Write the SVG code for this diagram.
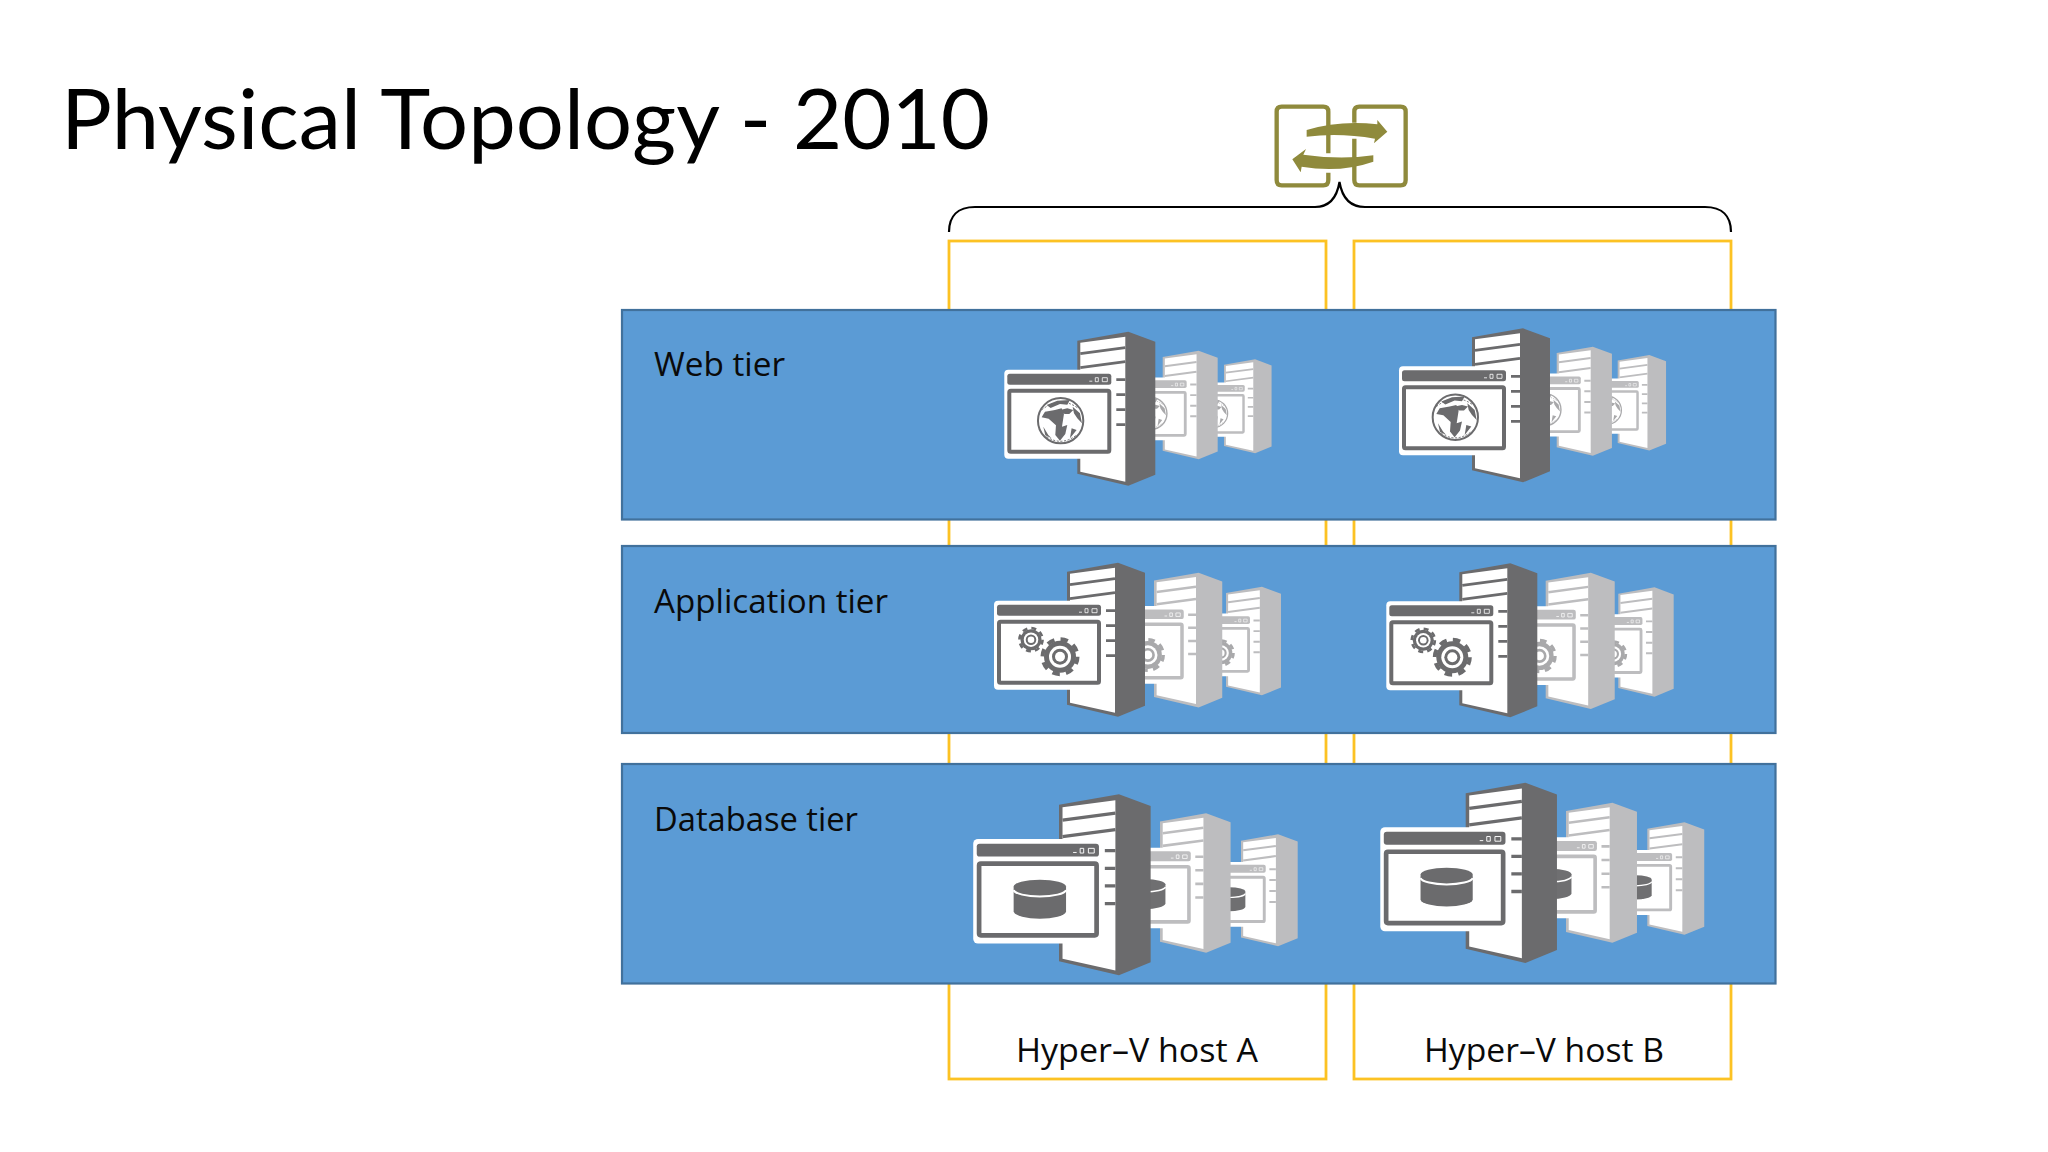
<svg xmlns="http://www.w3.org/2000/svg" xmlns:xlink="http://www.w3.org/1999/xlink" width="2048" height="1152" viewBox="0 0 2048 1152">
<style>
.bar{fill:#5b9bd5;stroke:#41719c;stroke-width:2.2}
.host{fill:#fff;stroke:#fcc223;stroke-width:2.8}
.lbl{font-family:"Open Sans","Liberation Sans",sans-serif;font-size:33px;fill:#0a0a0a}
.title{font-family:Lato,"Liberation Sans",sans-serif;font-size:84px;fill:#000}
.front{color:#6b6b6d}
.back{color:#bdbdbf}
.ic{color:#6f6f71}
.gi{color:#a9a9ab}
.ol{fill:none;stroke:#8f8a3c;stroke-width:13}
</style>
<defs>
<g id="srv">
<path fill="currentColor" d="M0 9L51 0L78 10V143L51 154L0 142Z"/>
<path fill="#fff" d="M3 11L48 5V150L3 140Z"/>
<path fill="none" stroke="currentColor" stroke-width="2.800" d="M3 22L48 16M3 36L48 30M39 48h9M39 63h9M39 78h9M39 93h9"/>
<rect x="-73" y="38" width="109" height="89" rx="4" fill="#fff"/>
<rect x="-70" y="42" width="104" height="11" rx="2.500" fill="currentColor"/>
<rect x="-68" y="59" width="100" height="61" rx="1.500" fill="#fff" stroke="currentColor" stroke-width="4"/>
<path fill="none" stroke="#fff" stroke-width=".8" d="M12 49.500h3M18 46v4h3v-4zM25 46h5v4h-5z"/>
</g>
<g id="globe" transform="translate(-97.330 -21.670) scale(.3333)">
<circle cx="242" cy="332" r="68" fill="#fff" stroke="currentColor" stroke-width="6"/>
<path fill="currentColor" d="M225 300L245 295L252 312L246 350L262 345L256 372L240 392L226 375L228 346L206 326L185 322L195 305ZM200 285L232 272L270 270L262 284L240 282L212 294ZM278 290L300 310L306 340L292 325L282 310ZM190 350L205 375L215 385L196 376ZM275 355L290 360L270 385ZM240 300L262 295L280 300L268 312L254 312Z"/>
<path fill="none" stroke="currentColor" stroke-width="3" stroke-dasharray="6 5" d="M185 300Q240 255 295 295M200 380Q245 410 290 375"/>
</g>
<g id="gear">
<circle r="16" fill="currentColor"/>
<circle r="17.500" fill="none" stroke="currentColor" stroke-width="4" stroke-dasharray="7.500 6.250"/>
<circle r="11" fill="#fff"/>
<circle r="8" fill="currentColor"/>
<circle r="5" fill="#fff"/>
</g>
<g id="gears">
<use xlink:href="#gear" href="#gear" transform="translate(-36 77) scale(.66)"/>
<use xlink:href="#gear" href="#gear" transform="translate(-7 94)"/>
</g>
<g id="db">
<path fill="currentColor" d="M-38.600 79V100A22.400 6.500 0 0 0 6 100V79Z"/>
<ellipse cx="-16.300" cy="78.500" rx="22.300" ry="5.800" fill="currentColor"/>
<path fill="none" stroke="#fff" stroke-width="1.700" d="M-38.600 81.500A22.400 6 0 0 0 6 81.500"/>
</g>
</defs>
<rect width="2048" height="1152" fill="#fff"/>
<text id="title" class="title" x="61" y="149" textLength="929" lengthAdjust="spacingAndGlyphs">Physical Topology - 2010</text>
<g id="hostA"><rect class="host" x="949" y="241" width="377" height="838"/><text class="lbl" x="1016" y="1062" textLength="242" lengthAdjust="spacingAndGlyphs">Hyper–V host A</text></g>
<g id="hostB"><rect class="host" x="1354" y="241" width="377" height="838"/><text class="lbl" x="1424" y="1062" textLength="240" lengthAdjust="spacingAndGlyphs">Hyper–V host B</text></g>
<g id="connectors">
<path fill="none" stroke="#000" stroke-width="2.200" d="M949 232C949 216 958 207 975 207H1315C1330 207 1337 197 1339.500 182C1342 197 1349 207 1365 207H1705C1722 207 1731 216 1731 232"/>
</g>
<g id="failover" transform="translate(1240 80) scale(.3333)">
<path class="ol" d="M265 220V95Q265 80 250 80H125Q110 80 110 95V300Q110 316 125 316H250Q265 316 265 300V278"/>
<path class="ol" d="M343 128V95Q343 80 358 80H482Q497 80 497 95V300Q497 316 482 316H358Q343 316 343 300V176"/>
<path fill="#8f8a3c" d="M200 150Q300 120 412 133L412 120L442 155L402 190L405 176Q300 158 200 170Z"/>
<path fill="#8f8a3c" d="M400 226Q300 240 190 224L198 207L157 238L182 277L185 260Q300 280 400 245Z"/>
</g>
<g id="webTier">
<rect class="bar" x="622" y="310" width="1153.500" height="209.500"/>
<text class="lbl" x="654" y="376" textLength="131" lengthAdjust="spacingAndGlyphs">Web tier</text>
</g>
<g id="appTier">
<rect class="bar" x="622" y="546" width="1153.500" height="187"/>
<text class="lbl" x="654" y="613" textLength="234" lengthAdjust="spacingAndGlyphs">Application tier</text>
</g>
<g id="dbTier">
<rect class="bar" x="622" y="764" width="1153.500" height="219.500"/>
<text class="lbl" x="654" y="831" textLength="204" lengthAdjust="spacingAndGlyphs">Database tier</text>
</g>
<g id="webServersA">
<g class="back" transform="translate(1224 359.300) scale(.61)"><use href="#srv"/><use href="#globe" class="gi"/></g>
<g class="back" transform="translate(1162.700 350.700) scale(.705)"><use href="#srv"/><use href="#globe" class="gi"/></g>
<g class="front" transform="translate(1077.300 331.700)"><use href="#srv"/><use href="#globe"/></g>
</g>
<g id="webServersB">
<g class="back" transform="translate(1617.700 355) scale(.62)"><use href="#srv"/><use href="#globe" class="gi"/></g>
<g class="back" transform="translate(1556.700 346.700) scale(.708)"><use href="#srv"/><use href="#globe" class="gi"/></g>
<g class="front" transform="translate(1472 328.300)"><use href="#srv"/><use href="#globe"/></g>
</g>
<g id="appServersA">
<g class="back" transform="translate(1226 586.700) scale(.705)"><use href="#srv"/><use href="#gears" class="gi"/></g>
<g class="back" transform="translate(1154 572.700) scale(.875)"><use href="#srv"/><use href="#gears" class="gi"/></g>
<g class="front" transform="translate(1067 562.700)"><use href="#srv"/><use href="#gears"/></g>
</g>
<g id="appServersB">
<g class="back" transform="translate(1618.300 587.300) scale(.71)"><use href="#srv"/><use href="#gears" class="gi"/></g>
<g class="back" transform="translate(1545.700 572.700) scale(.885)"><use href="#srv"/><use href="#gears" class="gi"/></g>
<g class="front" transform="translate(1459.300 563.300)"><use href="#srv"/><use href="#gears"/></g>
</g>
<g id="dbServersA">
<g class="back" transform="translate(1241 834.300) scale(.727)"><use href="#srv"/><use href="#db" class="ic"/></g>
<g class="back" transform="translate(1160 813.300) scale(.905)"><use href="#srv"/><use href="#db" class="ic"/></g>
<g class="front" transform="translate(1059 794.300) scale(1.175)"><use href="#srv"/><use href="#db"/></g>
</g>
<g id="dbServersB">
<g class="back" transform="translate(1647.300 822.300) scale(.73)"><use href="#srv"/><use href="#db" class="ic"/></g>
<g class="back" transform="translate(1566 802.700) scale(.91)"><use href="#srv"/><use href="#db" class="ic"/></g>
<g class="front" transform="translate(1465.700 782.700) scale(1.17)"><use href="#srv"/><use href="#db"/></g>
</g>
</svg>
